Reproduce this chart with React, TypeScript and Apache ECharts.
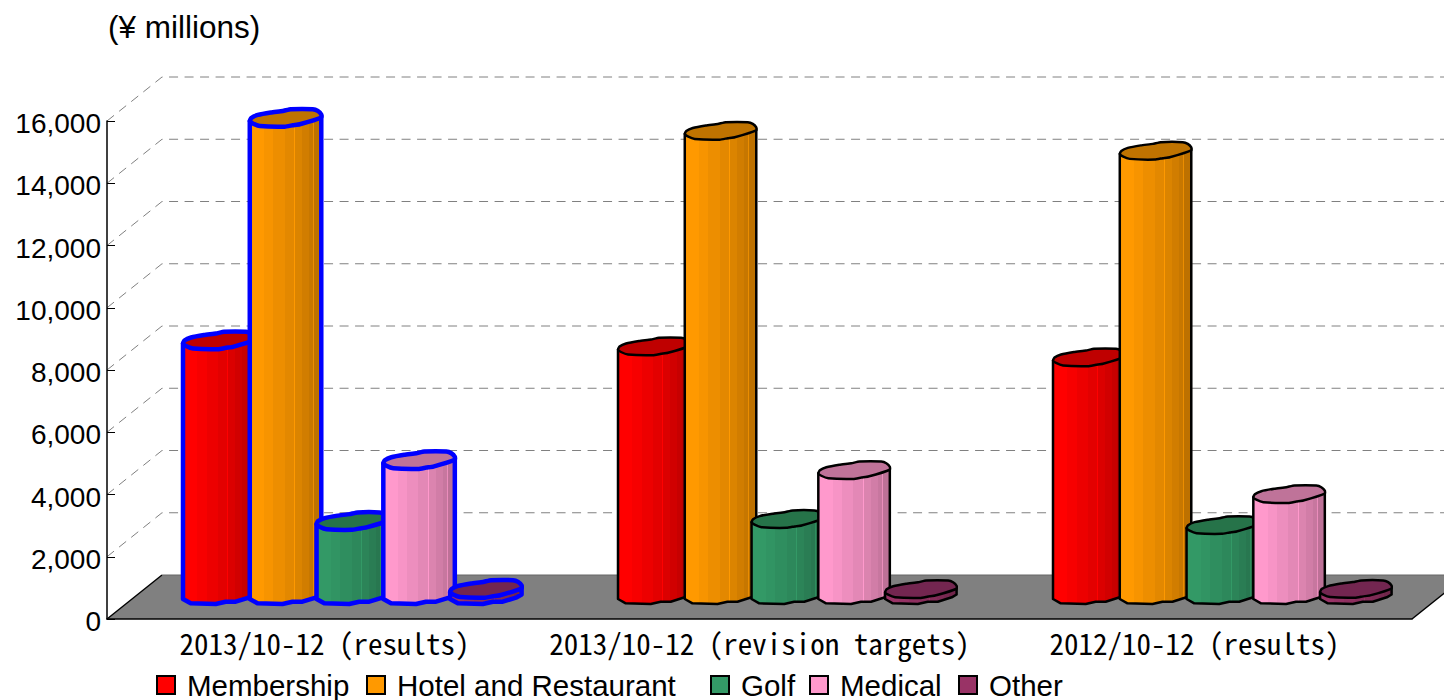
import React, { useEffect, useRef } from "react";
import * as echarts from "echarts";

const categories = ["2013/10-12 (results)", "2013/10-12 (revision targets)", "2012/10-12 (results)"];
const membership = [8176, 7984, 7631];
const hotel = [15327, 14910, 14269];
const golf = [2373, 2437, 2244];
const medical = [4329, 4008, 3238];
const other = [195, 185, 190];
const wallTicks = [2000, 4000, 6000, 8000, 10000, 12000, 14000, 16000];

const names = ["Membership", "Hotel and Restaurant", "Golf", "Medical", "Other"];
const values = [membership, hotel, golf, medical, other];
const colors = ["#FF0000", "#FF9900", "#339966", "#FF99CC", "#993366"];
const topColors = ["#BF0000", "#BF7300", "#267349", "#BF7399", "#732650"];
const legendLefts = [156, 366, 710, 809, 958];

const DEPTH_X = 55;
const DEPTH_Y = 44;
const highlighted = 0;

const topProfile: number[][] = [
  [0, 3], [1.5, 0], [8, -3], [21, -5.5], [33, -7], [41, -8.7], [63, -8.7], [68, -7], [71.5, -3.5], [71.5, -0.5],
  [50, 6.3], [43, 7.3], [35, 8.7], [10, 8], [3, 5.5],
];
const lowerProfile: number[][] = [
  [71.5, -0.5], [66.7, 2.3], [52.7, 6.7], [42.7, 6.7], [32.7, 9], [7.7, 8.3], [0, 4],
];

const bandStops: number[][] = [
  [0, 1], [0.2, 1], [0.2, 0.97], [0.33, 0.97], [0.33, 0.93], [0.49, 0.93], [0.49, 0.89], [0.62, 0.89],
  [0.62, 1], [0.635, 1], [0.635, 0.86], [0.73, 0.86], [0.73, 0.82], [0.83, 0.82], [0.83, 0.78], [0.89, 0.78],
  [0.89, 0.92], [0.9, 0.92], [0.9, 0.74], [1, 0.74],
];

function shade(hex: string, f: number) {
  const n = parseInt(hex.slice(1), 16);
  const c = [(n >> 16) & 255, (n >> 8) & 255, n & 255].map((v) => Math.round(v * f));
  return `rgb(${c[0]},${c[1]},${c[2]})`;
}

function barRenderer(barIndex: number) {
  return (_params: any, api: any) => {
    const cat = api.value(0);
    const val = api.value(1);
    const [cx, y0] = api.coord([cat, 0]);
    const [, yv] = api.coord([cat, val]);
    const band = api.size([1, 0])[0];
    const left = cx + DEPTH_X / 2 - band * 0.3885 + barIndex * band * 0.1535;
    const baseY = y0 - 24;
    const topY = yv - 24;
    const selected = cat === highlighted;
    const stroke = selected ? "#0000FF" : "#000000";
    const lineWidth = selected ? 4.5 : 2.5;
    const bodyPoints = [
      [left, topY + 3],
      [left + 71.5, topY - 2],
      ...lowerProfile.map(([x, y]) => [left + x, baseY + y]),
    ];
    const topPoints = topProfile.map(([x, y]) => [left + x, topY + y]);
    const fill = new echarts.graphic.LinearGradient(
      0, 0, 1, 0,
      bandStops.map(([offset, f]) => ({ offset, color: shade(colors[barIndex], f) }))
    );
    return {
      type: "group",
      children: [
        {
          type: "polygon",
          shape: { points: bodyPoints },
          style: { fill, stroke, lineWidth, lineJoin: "round" },
        },
        {
          type: "polygon",
          shape: { points: topPoints, smooth: 0.15 },
          style: { fill: topColors[barIndex], stroke, lineWidth, lineJoin: "round" },
        },
      ],
    };
  };
}

function wallRenderer(params: any, api: any) {
  const v = api.value(1);
  const cs = params.coordSys;
  const [, y] = api.coord([0, v]);
  const style = { stroke: "#808080", lineWidth: 1, lineDash: [9, 6.5], fill: "none" };
  return {
    type: "polyline",
    shape: {
      points: [
        [cs.x, y],
        [cs.x + DEPTH_X, y - DEPTH_Y],
        [cs.x + cs.width + DEPTH_X, y - DEPTH_Y],
      ],
    },
    style,
  };
}

function floorRenderer(params: any, api: any) {
  const cs = params.coordSys;
  const [, y] = api.coord([0, 0]);
  const x0 = cs.x;
  const x1 = cs.x + cs.width;
  return {
    type: "group",
    children: [
      {
        type: "polygon",
        shape: {
          points: [[x0, y], [x0 + DEPTH_X, y - DEPTH_Y], [x1 + DEPTH_X, y - DEPTH_Y], [x1, y]],
        },
        style: { fill: "#808080", stroke: "none" },
      },
      {
        type: "line",
        shape: { x1: x0, y1: y, x2: x0 + DEPTH_X, y2: y - DEPTH_Y },
        style: { stroke: "#000", lineWidth: 1.5 },
      },
      {
        type: "line",
        shape: { x1, y1: y, x2: x1 + DEPTH_X, y2: y - DEPTH_Y },
        style: { stroke: "#000", lineWidth: 1.5 },
      },
      {
        type: "line",
        shape: { x1: x0 + DEPTH_X, y1: y - DEPTH_Y, x2: x1 + DEPTH_X, y2: y - DEPTH_Y },
        style: { stroke: "#666", lineWidth: 1 },
      },
    ],
  };
}

export default function App() {
  const ref = useRef<HTMLDivElement>(null);
  useEffect(() => {
    const chart = echarts.init(ref.current!, undefined, { renderer: "svg" });
    chart.setOption({
      animation: false,
      backgroundColor: "#FFFFFF",
      title: {
        text: "(¥ millions)",
        left: 108,
        top: 11,
        padding: 0,
        textStyle: { fontFamily: "Liberation Sans", fontWeight: "normal", fontSize: 31.5, color: "#000" },
      },
      legend: names.map((name, i) => ({
        left: legendLefts[i],
        top: 670,
        padding: 0,
        selectedMode: false,
        icon: "rect",
        itemWidth: 18,
        itemHeight: 18,
        data: [name],
        itemStyle: { borderColor: "#000", borderWidth: 2 },
        textStyle: { fontFamily: "Liberation Sans", fontSize: 29.5, color: "#000", padding: [0, 0, 0, 7] },
      })),
      grid: { left: 107, top: 121, width: 1305, height: 498, containLabel: false },
      xAxis: {
        type: "category",
        data: categories,
        z: 2,
        axisLine: { lineStyle: { color: "#000", width: 1.5 } },
        axisTick: { inside: true, length: 9, alignWithLabel: false, lineStyle: { color: "#000", width: 1 } },
        axisLabel: {
          interval: 0,
          margin: 8,
          color: "#000",
          fontFamily: "'Noto Sans Mono CJK JP', 'DejaVu Sans Mono'",
          fontSize: 29,
        },
      },
      yAxis: {
        type: "value",
        min: 0,
        max: 16000,
        interval: 2000,
        z: 2,
        axisLine: { show: true, lineStyle: { color: "#000", width: 1.5 } },
        axisTick: { show: true, inside: true, length: 8, lineStyle: { color: "#000", width: 1 } },
        splitLine: { show: false },
        axisLabel: {
          margin: 6,
          color: "#000",
          fontFamily: "Liberation Sans",
          fontSize: 28,
          formatter: (v: number) => `{v|${v.toLocaleString("en-US")}}`,
          rich: {
            v: {
              fontFamily: "Liberation Sans",
              fontSize: 28,
              color: "#000",
              padding: [5, 0, 0, 0],
            },
          },
        },
      },
      series: [
        {
          type: "custom",
          z: 1,
          silent: true,
          renderItem: floorRenderer,
          data: [[0, 0]],
          clip: false,
        },
        {
          type: "custom",
          z: 1,
          silent: true,
          renderItem: wallRenderer,
          data: wallTicks.map((v) => [0, v]),
          clip: false,
        },
        ...names.map((name, i) => ({
          type: "custom",
          name,
          z: 3,
          itemStyle: { color: colors[i] },
          renderItem: barRenderer(i),
          data: values[i].map((v, c) => [c, v]),
          clip: false,
        })),
      ],
    });
    return () => chart.dispose();
  }, []);
  return <div ref={ref} style={{ position: "absolute", left: 0, top: 0, width: 1444, height: 700 }} />;
}
